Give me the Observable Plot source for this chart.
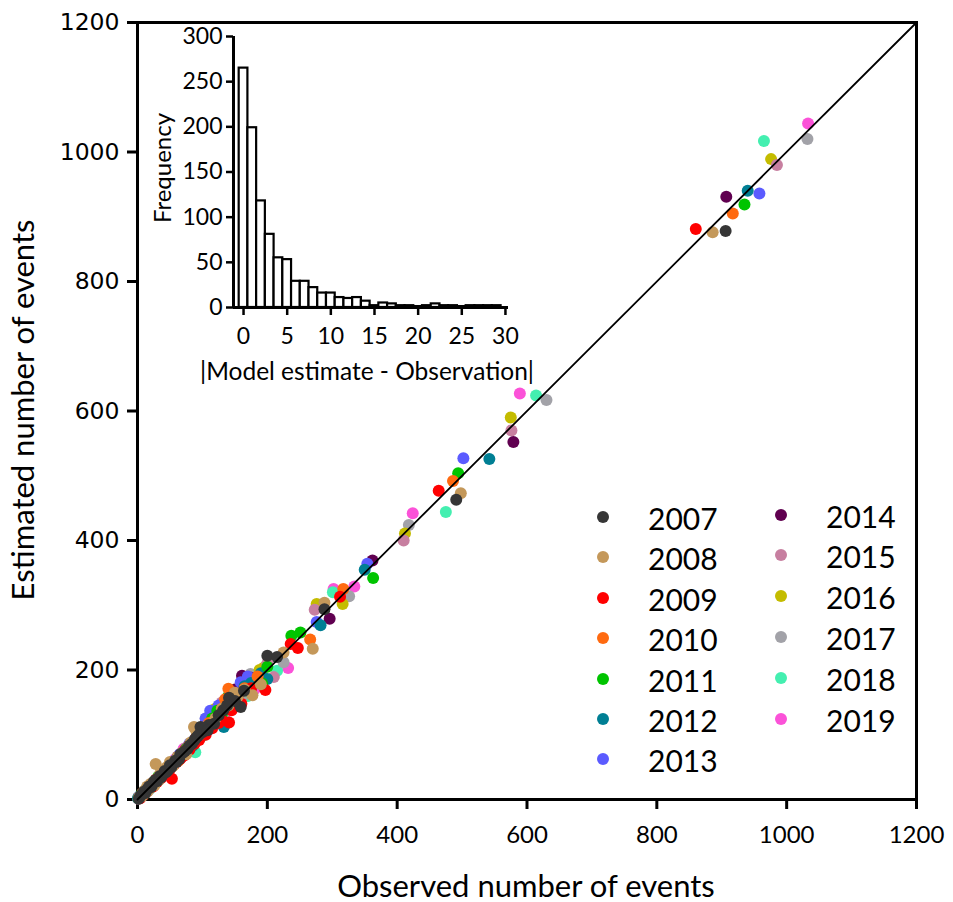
<!DOCTYPE html>
<html><head><meta charset="utf-8">
<script src="https://cdn.jsdelivr.net/npm/d3@7"></script>
<script src="https://cdn.jsdelivr.net/npm/@observablehq/plot@0.6"></script>
<style>
html,body{margin:0;padding:0;background:#fff;}
#wrap{position:relative;width:953px;height:902px;overflow:hidden;font-family:Lato,sans-serif;color:#000;}
#main{position:absolute;left:0;top:0;}
#inset{position:absolute;left:140px;top:20px;}
.title{position:absolute;white-space:nowrap;font-family:Lato,sans-serif;font-size:31px;line-height:1;}
.xt{left:526px;top:885px;transform:translate(-50%,-50%);}
.yt{left:22px;top:410px;transform:translate(-50%,-50%) rotate(-90deg);}
.ft{left:162px;top:168px;transform:translate(-50%,-50%) rotate(-90deg);font-size:24px;}
.mt{left:367px;top:371px;transform:translate(-50%,-50%);font-size:24.5px;}
.lg{position:absolute;font-family:Lato,sans-serif;font-size:30px;line-height:1;}
.lg .d{position:absolute;width:12px;height:12px;border-radius:50%;}
#main g[aria-label="x-axis tick label"] text{font-family:Lato,sans-serif;font-size:24px;}
#main g[aria-label="y-axis tick label"] text{font-family:"DejaVu Sans",sans-serif;font-size:23.5px;}
#inset g[aria-label="x-axis tick label"] text,#inset g[aria-label="y-axis tick label"] text{font-family:Lato,sans-serif;font-size:23px;}
</style></head><body>
<div id="wrap">
<div id="main"></div>
<div id="inset"></div>
<div class="title xt">Observed number of events</div>
<div class="title yt">Estimated number of events</div>
<div class="title ft">Frequency</div>
<div class="title mt">|Model estimate - Observation|</div>
</div>
<script>
const years = ["2007","2008","2009","2010","2011","2012","2013","2014","2015","2016","2017","2018","2019"];
const colors = ["#363636","#c4985a","#ff0000","#ff6a10","#00c400","#007f94","#5b5bff","#600050","#c77fa0","#c4bc00","#a2a2a8","#44efb0","#fb52d8"];
const mainTicks = [0,200,400,600,800,1000,1200];
const insetXTicks = [0,5,10,15,20,25,30];
const insetYTicks = [0,50,100,150,200,250,300];

// [observed, estimated] per year
const p2007 = [[906,878],[491,463],[288,294],[200,222],[215,220],[164,168],[159,143],[141,157],[118,117],[97,112],[105,108],[100,104],[2,1],[5,6],[8,9],[12,10],[15,16],[18,20],[22,21],[25,27],[30,28],[34,36],[38,37],[42,44],[47,45],[52,50],[58,60],[64,62],[70,72],[77,78],[84,86],[90,95],[95,100],[110,115],[125,130],[132,138],[150,152],[60,58],[66,70],[73,75],[80,83],[88,92],[93,98],[102,110],[108,107],[138,145],[10,12],[20,19],[28,30],[36,34],[44,42],[50,53]];
const p2008 = [[886,876],[498,473],[270,233],[288,304],[225,227],[177,161],[87,112],[89,109],[28,55],[3,4],[7,5],[11,14],[16,13],[20,24],[26,22],[33,30],[40,42],[45,50],[55,52],[62,66],[75,70],[120,125],[140,145],[155,160],[50,58],[68,72],[82,88],[95,100],[105,112],[130,140],[150,165],[165,170],[35,40],[15,20],[190,178]];
const p2009 = [[860,881],[464,477],[312,313],[236,240],[247,234],[197,169],[141,119],[130,122],[53,32],[4,2],[9,7],[14,12],[19,18],[24,20],[29,31],[36,33],[43,40],[50,47],[57,55],[66,63],[80,77],[105,100],[145,138],[60,58],[72,68],[88,86],[95,92],[115,110],[125,118],[155,150],[175,172],[30,27],[160,148]];
const p2010 = [[917,905],[486,492],[317,325],[266,247],[140,171],[3,3],[8,10],[13,11],[18,19],[23,25],[28,26],[35,37],[41,39],[48,51],[56,58],[63,60],[72,75],[100,108],[125,128],[45,48],[80,84],[90,95],[110,118],[130,140],[150,160],[165,172],[185,190],[135,155]];
const p2011 = [[935,919],[494,504],[363,342],[237,253],[251,258],[192,179],[123,137],[2,2],[6,8],[11,9],[16,18],[21,19],[27,29],[32,35],[39,38],[46,44],[53,56],[61,59],[69,71],[85,88],[108,112],[145,150],[75,78],[95,100],[115,125],[130,132],[155,162],[170,168],[200,205],[140,160]];
const p2012 = [[940,940],[542,526],[350,355],[282,269],[200,186],[133,112],[1,2],[5,4],[10,12],[15,14],[20,22],[26,24],[31,33],[37,36],[44,46],[51,49],[59,61],[67,65],[78,80],[95,97],[115,118],[165,175],[70,72],[85,83],[105,108],[125,125],[140,145],[150,148],[175,180],[190,195],[145,158]];
const p2013 = [[958,936],[502,527],[354,364],[276,274],[159,181],[177,176],[112,137],[2,4],[6,5],[11,11],[17,15],[22,23],[27,27],[33,31],[40,43],[47,49],[54,53],[62,64],[71,69],[88,92],[130,135],[170,190],[65,70],[80,86],[100,110],[120,130],[140,150],[150,165],[185,188],[105,125],[125,145]];
const p2014 = [[907,931],[579,552],[362,369],[296,279],[161,191],[133,148],[3,2],[7,8],[12,13],[17,17],[23,21],[28,30],[34,33],[41,41],[48,47],[55,57],[63,61],[73,76],[90,93],[120,127],[175,188],[62,66],[80,84],[100,106],[110,120],[140,155],[150,170],[165,180],[115,135],[145,165]];
const p2015 = [[985,980],[576,570],[410,400],[273,293],[210,189],[1,1],[6,7],[10,9],[15,17],[21,20],[26,28],[32,30],[38,40],[45,43],[52,54],[60,58],[68,70],[82,85],[102,105],[140,142],[185,182],[75,80],[90,95],[110,115],[125,130],[150,155],[165,170],[200,210],[130,150],[160,180]];
const p2016 = [[976,989],[575,590],[412,411],[316,302],[276,302],[195,204],[2,3],[7,6],[12,12],[17,19],[22,20],[27,25],[33,34],[39,41],[46,48],[53,51],[61,63],[70,68],[80,83],[110,113],[150,158],[188,200],[75,78],[90,90],[100,104],[125,130],[140,147],[165,170],[175,185],[120,140]];
const p2017 = [[1032,1020],[630,617],[418,424],[326,314],[225,212],[174,194],[105,125],[1,3],[5,5],[10,10],[14,16],[20,18],[25,26],[31,29],[37,38],[44,42],[50,52],[58,57],[66,68],[76,74],[92,96],[135,136],[160,155],[70,72],[85,90],[100,103],[115,120],[125,128],[150,148],[185,190],[135,150]];
const p2018 = [[965,1017],[614,624],[475,444],[301,320],[215,199],[89,73],[3,5],[8,7],[13,15],[18,16],[24,24],[29,27],[35,34],[42,45],[49,46],[57,59],[65,64],[74,72],[85,84],[100,98],[130,128],[180,185],[60,62],[78,80],[95,96],[115,112],[145,142],[160,165],[190,192],[170,160]];
const p2019 = [[1033,1044],[589,627],[424,442],[334,329],[302,325],[232,203],[71,78],[2,2],[7,9],[12,10],[16,15],[21,23],[26,25],[32,32],[38,35],[45,47],[52,50],[60,62],[68,66],[79,82],[98,102],[125,120],[150,148],[58,62],[72,75],[88,92],[110,108],[135,132],[165,165],[190,200],[180,170]];

const histBins = [0,1,2,3,4,5,6,7,8,9,10,11,12,13,14,15,16,17,18,19,20,21,22,23,24,25,26,27,28,29];
const histFreq = [265,199,118,81,55,53,29,29,22,16,16,11,10,11,7,2,5,4,2,2,1,2,4,2,2,1,2,2,2,2];

const seriesByYear = [p2007,p2008,p2009,p2010,p2011,p2012,p2013,p2014,p2015,p2016,p2017,p2018,p2019];
// draw later years first so 2007 ends up on top
const points = [];
for (let i = seriesByYear.length - 1; i >= 0; i--) {
  for (const [o, e] of seriesByYear[i]) points.push({obs: o, est: e, year: years[i]});
}
const mainDomain = [mainTicks[0], mainTicks[mainTicks.length - 1]];
const diag = mainDomain.map(v => ({x: v, y: v}));

const main = Plot.plot({
  width: 953, height: 902,
  marginLeft: 137, marginRight: 37, marginTop: 22, marginBottom: 103,
  style: {background: "white", overflow: "visible"},
  x: {domain: mainDomain},
  y: {domain: mainDomain},
  color: {domain: years, range: colors},
  marks: [
    Plot.frame({stroke: "black", strokeWidth: 3}),
    Plot.axisX({ticks: mainTicks, tickSize: 10, tickPadding: 16, strokeWidth: 3, tickFormat: "d", label: null}),
    Plot.axisY({ticks: mainTicks, tickSize: 10, tickPadding: 8, strokeWidth: 3, tickFormat: "d", label: null}),
    Plot.dot(points, {x: "obs", y: "est", r: 6, fill: "year", stroke: null}),
    Plot.line(diag, {x: "x", y: "y", stroke: "black", strokeWidth: 1.8})
  ]
});
document.getElementById("main").appendChild(main);

const insetXDomain = [-1.15, 30.35];
const bars = histBins.map((b, i) => ({x1: b - 0.5, x2: b + 0.5, y: histFreq[i]}));
const inset = Plot.plot({
  width: 400, height: 370,
  marginLeft: 93, marginRight: 32, marginTop: 16, marginBottom: 83,
  style: {background: "transparent", overflow: "visible"},
  x: {domain: insetXDomain},
  y: {domain: [insetYTicks[0], insetYTicks[insetYTicks.length - 1]]},
  marks: [
    Plot.rectY(bars, {x1: "x1", x2: "x2", y: "y", fill: "white", stroke: "black", strokeWidth: 2.2}),
    Plot.ruleY([insetYTicks[0]], {stroke: "black", strokeWidth: 3}),
    Plot.ruleX([insetXDomain[0]], {stroke: "black", strokeWidth: 3}),
    Plot.axisX({ticks: insetXTicks, tickSize: 8, tickPadding: 12, strokeWidth: 2.5, tickFormat: "d", label: null}),
    Plot.axisY({ticks: insetYTicks, tickSize: 7, tickPadding: 4, strokeWidth: 2.5, tickFormat: "d", label: null})
  ]
});
document.getElementById("inset").appendChild(inset);

// legend
const wrap = document.getElementById("wrap");
years.forEach((yr, i) => {
  const col = i < 7 ? 0 : 1;
  const row = col === 0 ? i : i - 7;
  const dotX = col === 0 ? 603 : 781;
  const cy = (col === 0 ? 517 : 514.5) + row * (col === 0 ? 40.4 : 40.8);
  const item = document.createElement("div");
  item.className = "lg";
  item.style.left = "0px"; item.style.top = "0px";
  const d = document.createElement("div");
  d.className = "d";
  d.style.background = colors[i];
  d.style.left = (dotX - 6) + "px"; d.style.top = (cy - 6) + "px";
  const t = document.createElement("div");
  t.textContent = yr;
  t.style.position = "absolute";
  t.style.left = (dotX + 45) + "px";
  t.style.top = (cy + 1) + "px";
  t.style.transform = "translateY(-50%)";
  item.appendChild(d); item.appendChild(t);
  wrap.appendChild(item);
});
</script>
</body></html>
